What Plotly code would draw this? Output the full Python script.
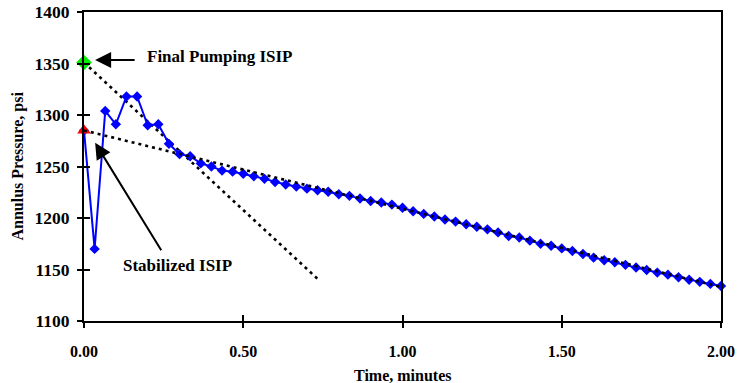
import plotly.graph_objects as go

# ---- data ----
time_min = [i / 30 for i in range(61)]
pressure_psi = [1285, 1170, 1304, 1291, 1318, 1318, 1290, 1291, 1272, 1262,
                1260, 1253, 1250, 1246, 1245, 1243, 1240.5, 1238, 1235, 1232.5,
                1230.5, 1228.5, 1227, 1225.5, 1223, 1221.5, 1219, 1216.5, 1215, 1213,
                1210, 1206.5, 1204, 1201.5, 1198.5, 1196.5, 1194, 1191.5, 1189, 1186,
                1182.5, 1181, 1178, 1175, 1173, 1170.5, 1168, 1165, 1161.5, 1159,
                1157, 1154.5, 1152, 1149.5, 1147, 1145, 1142.5, 1140, 1138, 1136, 1134]

tangent1_t = [0.0, 0.74]
tangent1_p = [1351, 1139]
tangent2_t = [0.0, 2.0]
tangent2_p = [1285, 1133]

final_isip_t = [0.0]
final_isip_p = [1351]
stab_isip_t = [0.0]
stab_isip_p = [1285]

x_ticks = [0, 0.5, 1.0, 1.5, 2.0]
x_tick_labels = ["0.00", "0.50", "1.00", "1.50", "2.00"]
y_ticks = [1100, 1150, 1200, 1250, 1300, 1350, 1400]

FONT = "Liberation Serif, Times New Roman, serif"

fig = go.Figure()

dot_line = dict(color="black", width=2.6, dash="3px,4px")
fig.add_trace(go.Scatter(x=tangent1_t, y=tangent1_p, mode="lines", line=dot_line,
                         showlegend=False, hoverinfo="skip"))
fig.add_trace(go.Scatter(x=tangent2_t, y=tangent2_p, mode="lines", line=dot_line,
                         showlegend=False, hoverinfo="skip", xaxis="x2", yaxis="y2"))
fig.add_trace(go.Scatter(x=time_min, y=pressure_psi, mode="lines+markers",
                         line=dict(color="#0000FF", width=2),
                         marker=dict(symbol="diamond", size=8, color="#0000FF"),
                         cliponaxis=False, showlegend=False))
fig.add_trace(go.Scatter(x=final_isip_t, y=final_isip_p, mode="markers",
                         marker=dict(symbol="diamond", size=12, color="#00EE00"),
                         cliponaxis=False, showlegend=False))
fig.add_trace(go.Scatter(x=stab_isip_t, y=stab_isip_p, mode="markers",
                         marker=dict(symbol="triangle-up", size=12, color="#FF0000"),
                         cliponaxis=False, showlegend=False))

xtickfont = dict(family=FONT, size=16, color="black", weight="bold")
ytickfont = dict(family=FONT, size=17.5, color="black", weight="bold")
common_x = dict(range=[0, 2], tickvals=x_ticks, showgrid=False, zeroline=False,
                automargin=False)
common_y = dict(range=[1100, 1400], tickvals=y_ticks, showgrid=False, zeroline=False,
                automargin=False)

fig.update_layout(
    width=751, height=383,
    margin=dict(l=84, r=30, t=12, b=62),
    paper_bgcolor="white", plot_bgcolor="white",
    xaxis=dict(**common_x, ticktext=x_tick_labels, ticks="outside", ticklen=5,
               tickwidth=2, tickcolor="black", showline=True, linewidth=2,
               linecolor="black", mirror=True, tickfont=xtickfont,
               ticklabelstandoff=10),
    yaxis=dict(**common_y, ticks="outside", ticklen=5, tickwidth=2, tickcolor="black",
               showline=True, linewidth=2, linecolor="black", mirror=True,
               tickfont=ytickfont, ticklabelstandoff=4),
    xaxis2=dict(**common_x, overlaying="x", anchor="y2", side="bottom", ticks="inside",
                ticklen=6, tickwidth=2, tickcolor="black", showticklabels=False,
                showline=False),
    yaxis2=dict(**common_y, overlaying="y", anchor="x2", side="left", ticks="inside",
                ticklen=6, tickwidth=2, tickcolor="black", showticklabels=False,
                showline=False),
)

titlefont = dict(family=FONT, size=16, color="black", weight="bold")
fig.add_annotation(x=0.5, y=0, xref="paper", yref="paper", text="Time, minutes",
                   showarrow=False, xanchor="center", yanchor="middle", yshift=-54,
                   font=titlefont)
fig.add_annotation(x=0, y=0.5, xref="paper", yref="paper", text="Annulus Pressure, psi",
                   showarrow=False, xanchor="center", yanchor="middle", xshift=-67,
                   textangle=-90, font=titlefont)

annfont = dict(family=FONT, size=17, color="black", weight="bold")
# arrows
fig.add_annotation(x=0.035, y=1353.5, text="", showarrow=True, ax=41, ay=0,
                   arrowhead=2, arrowsize=1.6, arrowwidth=2, arrowcolor="black", standoff=0)
fig.add_annotation(x=0.035, y=1273, text="", showarrow=True, ax=67, ay=109,
                   arrowhead=2, arrowsize=1.6, arrowwidth=2, arrowcolor="black", standoff=0)
# labels
fig.add_annotation(x=0.19, y=1357, text="Final Pumping ISIP", showarrow=False,
                   xanchor="left", yanchor="middle", font=annfont)
fig.add_annotation(x=0.116, y=1154, text="Stabilized ISIP", showarrow=False,
                   xanchor="left", yanchor="middle", font=annfont)

fig.write_html("out.html")
